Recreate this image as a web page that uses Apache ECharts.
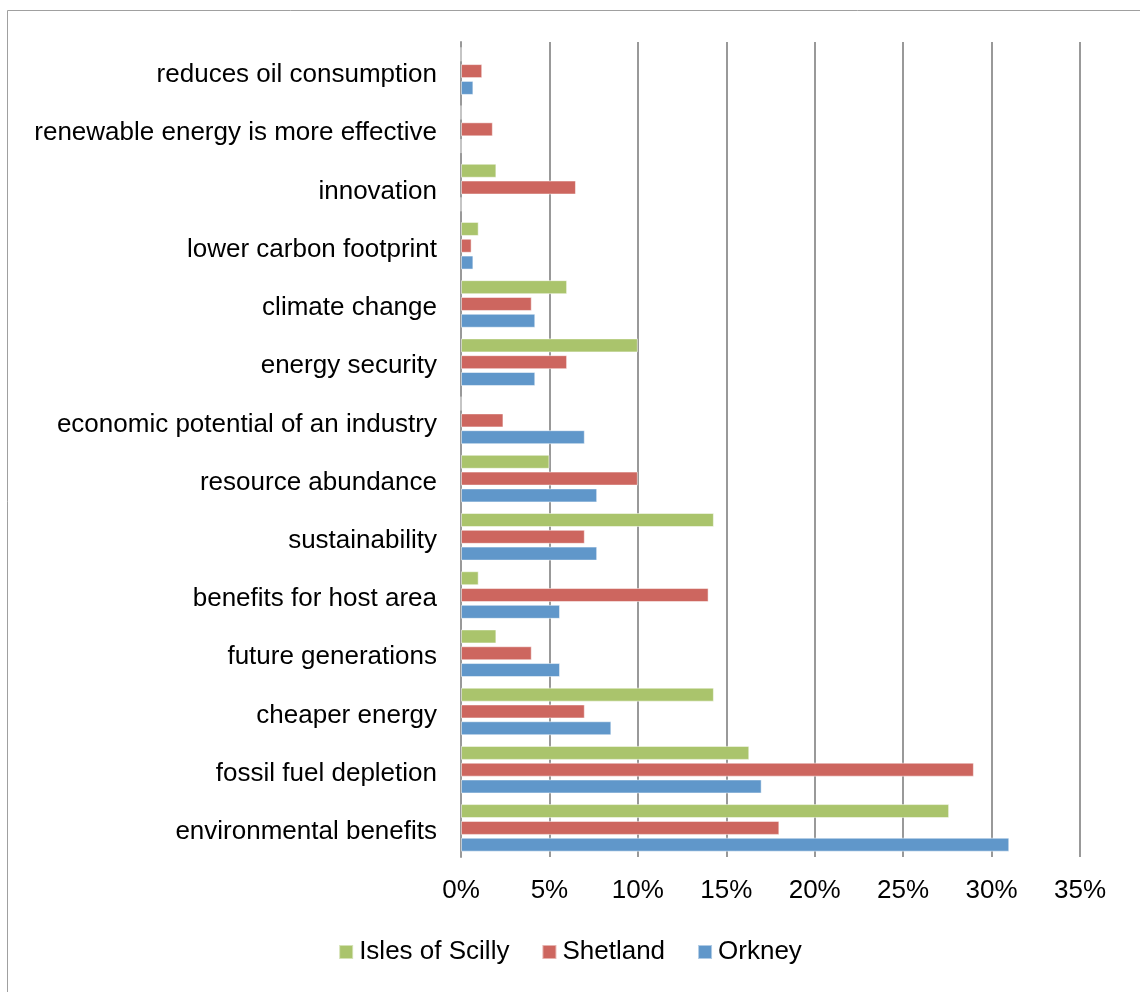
<!DOCTYPE html>
<html>
<head>
<meta charset="utf-8">
<script src="https://cdn.jsdelivr.net/npm/echarts@6/dist/echarts.min.js"></script>
<style>
html,body{margin:0;padding:0;background:#fff;}
#chart{width:1140px;height:992px;}
</style>
</head>
<body>
<div id="chart"></div>
<script>
// Categories listed top to bottom as in the reference
const categories = [
  "reduces oil consumption",
  "renewable energy is more effective",
  "innovation",
  "lower carbon footprint",
  "climate change",
  "energy security",
  "economic potential of an industry",
  "resource abundance",
  "sustainability",
  "benefits for host area",
  "future generations",
  "cheaper energy",
  "fossil fuel depletion",
  "environmental benefits"
];
const islesOfScilly = [0, 0, 2.0, 1.0, 6.0, 10.0, 0, 5.0, 14.3, 1.0, 2.0, 14.3, 16.3, 27.6];
const shetland      = [1.2, 1.8, 6.5, 0.6, 4.0, 6.0, 2.4, 10.0, 7.0, 14.0, 4.0, 7.0, 29.0, 18.0];
const orkney        = [0.7, 0, 0, 0.7, 4.2, 4.2, 7.0, 7.7, 7.7, 5.6, 5.6, 8.5, 17.0, 31.0];
const xTicks = [0, 5, 10, 15, 20, 25, 30, 35];

const colors = { scilly: "#AAC46C", shetland: "#CD665F", orkney: "#6097CA" };
const font = "'Liberation Sans', Arial, sans-serif";

const chart = echarts.init(document.getElementById('chart'), null, {renderer: 'canvas'});
function bar(name, data, color) {
  return {
    name, type: 'bar', data,
    barWidth: 14, barGap: '20%',
    itemStyle: { color, borderColor: 'rgba(255,255,255,0.5)', borderWidth: 1 },
    emphasis: { disabled: true },
    animation: false
  };
}
chart.setOption({
  animation: false,
  backgroundColor: '#fff',
  graphic: [{
    type: 'rect', left: 5, top: 8,
    shape: { width: 1133, height: 1000 },
    style: { fill: 'none', stroke: '#A0A0A0', lineWidth: 1 },
    silent: true
  }],
  grid: { left: 461, right: 60, top: 42, bottom: 135, containLabel: false },
  legend: {
    bottom: 22, left: 'center',
    itemWidth: 14, itemHeight: 14, itemGap: 32,
    icon: 'rect',
    textStyle: { fontFamily: font, fontSize: 26, color: '#000', padding: [0,0,0,1] },
    data: ['Isles of Scilly', 'Shetland', 'Orkney']
  },
  xAxis: {
    type: 'value', min: xTicks[0], max: xTicks[xTicks.length - 1], interval: 5,
    axisLine: { show: false }, axisTick: { show: false },
    axisLabel: { formatter: '{value}%', fontFamily: font, fontSize: 26, color: '#000', margin: 21 },
    splitLine: { show: true, lineStyle: { color: '#999999', width: 2 } }
  },
  yAxis: {
    type: 'category', data: categories, inverse: true,
    axisLine: { show: true, lineStyle: { color: '#999999', width: 2 } },
    axisTick: { show: false },
    axisLabel: {
      margin: 24,
      formatter: v => '{a|' + v + '}',
      rich: { a: { fontFamily: font, fontSize: 26, color: '#000', padding: [8, 0, 0, 0] } }
    }
  },
  series: [
    bar('Isles of Scilly', islesOfScilly, colors.scilly),
    bar('Shetland', shetland, colors.shetland),
    bar('Orkney', orkney, colors.orkney)
  ]
});
</script>
</body>
</html>
